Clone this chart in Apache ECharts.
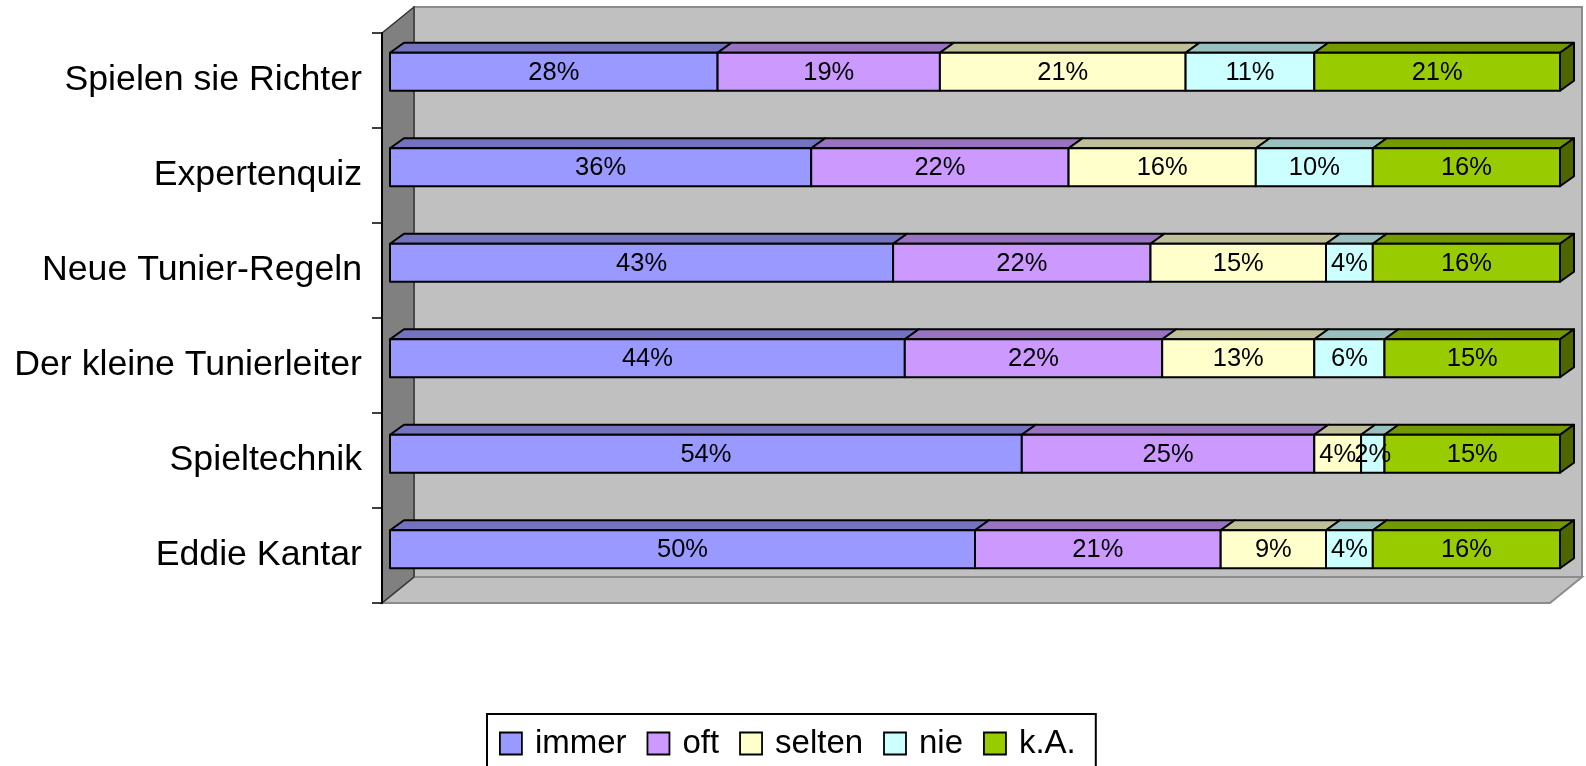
<!DOCTYPE html>
<html>
<head>
<meta charset="utf-8">
<script src="https://cdn.jsdelivr.net/npm/echarts@6/dist/echarts.min.js"></script>
<style>
  html, body { margin: 0; padding: 0; background: #fff; overflow: hidden; }
  #chart { width: 1586px; height: 766px; }
</style>
</head>
<body>
<div id="chart"></div>
<script>
// Survey topics and answer shares (percent)
const categories = ['Spielen sie Richter', 'Expertenquiz', 'Neue Tunier-Regeln', 'Der kleine Tunierleiter', 'Spieltechnik', 'Eddie Kantar'];
const seriesNames = ['immer', 'oft', 'selten', 'nie', 'k.A.'];
const immer  = [28, 36, 43, 44, 54, 50];
const oft    = [19, 22, 22, 22, 25, 21];
const selten = [21, 16, 15, 13, 4, 9];
const nie    = [11, 10, 4, 6, 2, 4];
const kA     = [21, 16, 16, 15, 15, 16];
const seriesValues = [immer, oft, selten, nie, kA];

// Face colours: front, top (shaded), side (darker)
const frontColors = ['#9999ff', '#cc99ff', '#ffffcc', '#ccffff', '#99cc00'];
const topColors   = ['#7373bf', '#9973bf', '#bfbf99', '#99bfbf', '#739900'];
const sideColors  = ['#4d4d80', '#664d80', '#808066', '#668080', '#4d6600'];

const FONT = '"Liberation Sans", Arial, sans-serif';
const BAR_H = 38;        // bar thickness
const DX = 14, DY = -10; // bar depth offset

// Plot frame (walls/floor)
const AX_X = 382, AX_TOP = 33, AX_BOTTOM = 603;
const WALL_DX = 32, WALL_DY = -26;
const WALL_RIGHT = 1582;

const chart = echarts.init(document.getElementById('chart'));

// Build stacked segment table [catIndex, start, end, value]
const series = seriesValues.map((vals, k) => {
  const data = vals.map((v, i) => {
    let start = 0;
    for (let j = 0; j < k; j++) start += seriesValues[j][i];
    return [i, start, start + v, v];
  });
  const isLast = k === seriesValues.length - 1;
  return {
    name: seriesNames[k],
    type: 'custom',
    xAxisIndex: 0,
    yAxisIndex: 0,
    itemStyle: { color: frontColors[k] },
    encode: { x: [1, 2], y: 0 },
    clip: false,
    z: 5,
    data: data,
    renderItem: function (params, api) {
      const ci = api.value(0);
      const a = api.coord([api.value(1), ci]);
      const b = api.coord([api.value(2), ci]);
      const top = a[1] - BAR_H / 2;
      const bottom = top + BAR_H;
      const x0 = a[0], x1 = b[0];
      const line = { stroke: '#000', lineWidth: 2, lineJoin: 'round' };
      const children = [
        {
          type: 'polygon',
          shape: { points: [[x0, top], [x0 + DX, top + DY], [x1 + DX, top + DY], [x1, top]] },
          style: Object.assign({ fill: topColors[k] }, line)
        },
        {
          type: 'rect',
          shape: { x: x0, y: top, width: x1 - x0, height: BAR_H },
          style: Object.assign({ fill: frontColors[k] }, line)
        }
      ];
      if (isLast) {
        children.push({
          type: 'polygon',
          shape: { points: [[x1, top], [x1 + DX, top + DY], [x1 + DX, bottom + DY], [x1, bottom]] },
          style: Object.assign({ fill: sideColors[k] }, line)
        });
      }
      children.push({
        type: 'text',
        z2: 10,
        style: {
          text: api.value(3) + '%',
          x: (x0 + x1) / 2,
          y: (top + bottom) / 2 + 1,
          align: 'center',
          verticalAlign: 'middle',
          fill: '#000',
          font: '25.5px ' + FONT
        }
      });
      return { type: 'group', children: children };
    }
  };
});

// Back wall, floor and side wall of the plot area
const graphics = [
  {
    type: 'polygon', z: -10,
    shape: { points: [[AX_X + WALL_DX, AX_TOP + WALL_DY], [WALL_RIGHT, AX_TOP + WALL_DY], [WALL_RIGHT, AX_BOTTOM + WALL_DY], [AX_X + WALL_DX, AX_BOTTOM + WALL_DY]] },
    style: { fill: '#c0c0c0', stroke: '#8c8c8c', lineWidth: 2 }
  },
  {
    type: 'polygon', z: -9,
    shape: { points: [[AX_X, AX_BOTTOM], [AX_X + WALL_DX, AX_BOTTOM + WALL_DY], [WALL_RIGHT, AX_BOTTOM + WALL_DY], [WALL_RIGHT - WALL_DX, AX_BOTTOM]] },
    style: { fill: '#c0c0c0', stroke: '#8c8c8c', lineWidth: 2 }
  },
  {
    type: 'polygon', z: -8,
    shape: { points: [[AX_X, AX_TOP], [AX_X + WALL_DX, AX_TOP + WALL_DY], [AX_X + WALL_DX, AX_BOTTOM + WALL_DY], [AX_X, AX_BOTTOM]] },
    style: { fill: '#808080', stroke: '#333', lineWidth: 1.5 }
  }
];

chart.setOption({
  animation: false,
  backgroundColor: '#fff',
  textStyle: { fontFamily: FONT },
  graphic: graphics,
  grid: [
    // bar front plane
    { left: 390, right: 26, top: 24, bottom: 169 },
    // category axis on the front edge of the side wall
    { left: AX_X, right: 26, top: AX_TOP, bottom: 766 - AX_BOTTOM }
  ],
  xAxis: [
    { type: 'value', gridIndex: 0, min: 0, max: 100, show: false },
    { type: 'value', gridIndex: 1, min: 0, max: 100, show: false }
  ],
  yAxis: [
    { type: 'category', gridIndex: 0, data: categories, inverse: true, show: false },
    {
      type: 'category', gridIndex: 1, data: categories, inverse: true, z: 6,
      axisLine: { show: true, lineStyle: { color: '#000', width: 2 } },
      axisTick: { show: true, length: 10, lineStyle: { color: '#000', width: 1.5 } },
      axisLabel: { color: '#000', fontSize: 35.7, fontFamily: FONT, margin: 20, padding: [10, 0, 0, 0] },
      splitLine: { show: false }
    }
  ],
  legend: {
    data: seriesNames,
    left: 487,
    top: 714,
    orient: 'horizontal',
    padding: [12, 20, 24, 12],
    itemGap: 20,
    itemWidth: 22,
    itemHeight: 22,
    icon: 'rect',
    borderColor: '#000',
    borderWidth: 2,
    borderRadius: 0,
    itemStyle: { borderColor: '#000', borderWidth: 1.8 },
    textStyle: { color: '#000', fontSize: 33, lineHeight: 33, fontFamily: FONT, padding: [2, 0, 0, 8] },
    selectedMode: false
  },
  series: series
});
</script>
</body>
</html>
